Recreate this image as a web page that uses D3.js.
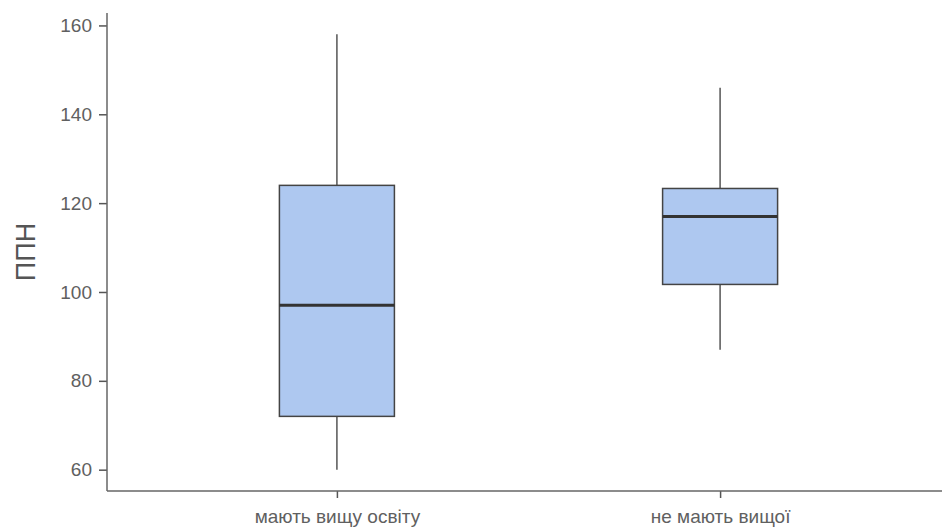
<!DOCTYPE html>
<html>
<head>
<meta charset="utf-8">
<title>ППН</title>
<style>
  body { margin: 0; background: #fff; }
  .tick text { font-family: "Liberation Sans", Arial, sans-serif; fill: #606060; }
</style>
</head>
<body>
<svg id="chart"></svg>
<script src="https://cdnjs.cloudflare.com/ajax/libs/d3/7.8.5/d3.min.js"></script>
<script>
// data
var groups = ["мають вищу освіту", "не мають вищої"];
var whiskerLow = [60, 87];
var q1 = [72, 101.7];
var median = [97, 117];
var q3 = [124, 123.3];
var whiskerHigh = [158, 146];
var yTicks = [60, 80, 100, 120, 140, 160];

var width = 942, height = 531;
var marginLeft = 107, plotTop = 13, plotBottom = 491;

var svg = d3.select("#chart").attr("width", width).attr("height", height);

var x = d3.scalePoint().domain(groups).range([marginLeft, 950]).padding(0.6);
var y = d3.scaleLinear().domain([55.2, 162.8]).range([plotBottom, plotTop]);
var boxW = 115;

var boxes = groups.map(function(g, i) {
  return { g: g, lo: whiskerLow[i], q1: q1[i], med: median[i], q3: q3[i], hi: whiskerHigh[i] };
});

var gBox = svg.append("g").selectAll("g").data(boxes).enter().append("g");

// whiskers
gBox.append("line")
  .attr("x1", function(d) { return x(d.g); })
  .attr("x2", function(d) { return x(d.g); })
  .attr("y1", function(d) { return y(d.hi); })
  .attr("y2", function(d) { return y(d.q3); })
  .attr("stroke", "#555").attr("stroke-width", 1.5);
gBox.append("line")
  .attr("x1", function(d) { return x(d.g); })
  .attr("x2", function(d) { return x(d.g); })
  .attr("y1", function(d) { return y(d.q1); })
  .attr("y2", function(d) { return y(d.lo); })
  .attr("stroke", "#555").attr("stroke-width", 1.5);

// box
gBox.append("rect")
  .attr("x", function(d) { return x(d.g) - boxW / 2; })
  .attr("width", boxW)
  .attr("y", function(d) { return y(d.q3); })
  .attr("height", function(d) { return y(d.q1) - y(d.q3); })
  .attr("fill", "#aec8f0")
  .attr("stroke", "#444").attr("stroke-width", 1.5);

// median
gBox.append("line")
  .attr("x1", function(d) { return x(d.g) - boxW / 2; })
  .attr("x2", function(d) { return x(d.g) + boxW / 2; })
  .attr("y1", function(d) { return y(d.med); })
  .attr("y2", function(d) { return y(d.med); })
  .attr("stroke", "#333").attr("stroke-width", 3);

// axes
var yAxis = svg.append("g")
  .attr("transform", "translate(" + marginLeft + ",0)")
  .call(d3.axisLeft(y).tickValues(yTicks).tickSize(8).tickPadding(7));
yAxis.select(".domain").remove();
yAxis.selectAll(".tick line").attr("stroke", "#555").attr("stroke-width", 1.5);
yAxis.selectAll(".tick text").style("font-size", "19px");
svg.append("line").attr("x1", marginLeft).attr("x2", marginLeft).attr("y1", plotTop).attr("y2", plotBottom)
  .attr("stroke", "#666").attr("stroke-width", 1.5);

var xAxis = svg.append("g")
  .attr("transform", "translate(0," + plotBottom + ")")
  .call(d3.axisBottom(x).tickSize(7).tickPadding(12));
xAxis.select(".domain").remove();
xAxis.selectAll(".tick line").attr("stroke", "#555").attr("stroke-width", 1.5);
xAxis.selectAll(".tick text").style("font-size", "19px");
svg.append("line").attr("x1", marginLeft).attr("x2", width).attr("y1", plotBottom).attr("y2", plotBottom)
  .attr("stroke", "#666").attr("stroke-width", 1.5);

// y label
svg.append("text")
  .attr("transform", "translate(35," + ((plotTop + plotBottom) / 2) + ") rotate(-90)")
  .attr("text-anchor", "middle")
  .style("font-family", "\"Liberation Sans\", Arial, sans-serif")
  .style("font-size", "27px")
  .attr("fill", "#555")
  .text("ППН");
</script>
</body>
</html>
